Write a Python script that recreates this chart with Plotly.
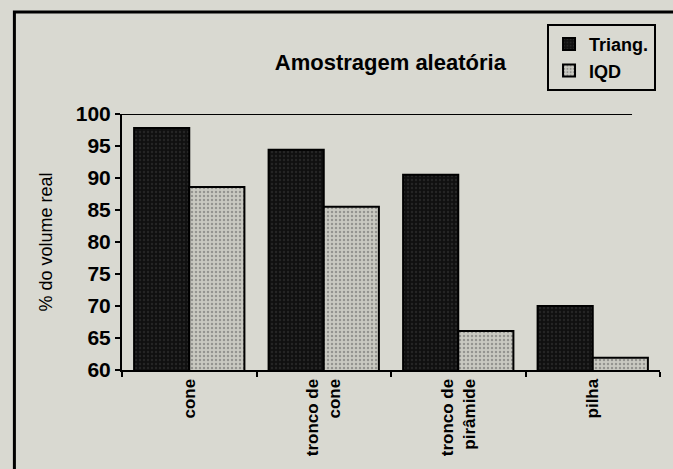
import plotly.graph_objects as go

categories = ["cone", "tronco de<br>cone", "tronco de<br>pirâmide", "pilha"]
triang = [97.8, 94.4, 90.5, 70.0]
iqd = [88.6, 85.5, 66.1, 61.9]
y_ticks = [60, 65, 70, 75, 80, 85, 90, 95, 100]

BG = "#d9d9d1"
FONT = "Liberation Sans, Arial, sans-serif"

fig = go.Figure()
fig.add_trace(go.Bar(
    name="<b>Triang.</b>", x=categories, y=triang,
    marker=dict(color="#141414",
                line=dict(color="black", width=2),
                pattern=dict(shape=".", bgcolor="#101010", fgcolor="#3a3a3a", size=4, solidity=0.3)),
))
fig.add_trace(go.Bar(
    name="<b>IQD</b>", x=categories, y=iqd,
    marker=dict(color="#c0c0b8",
                line=dict(color="black", width=2),
                pattern=dict(shape=".", bgcolor="#c9c9c1", fgcolor="#5e5e5e", size=4, solidity=0.3)),
))

fig.update_layout(
    width=673, height=469,
    margin=dict(l=122, r=13, t=114, b=99),
    paper_bgcolor=BG, plot_bgcolor=BG,
    barmode="group", bargap=0.18, bargroupgap=0,
    font=dict(family=FONT, color="black"),
    title=dict(text="<b>Amostragem aleatória</b>", x=0.58, xanchor="center",
               y=1 - 62 / 469, yanchor="middle", font=dict(size=22, family=FONT)),
    legend=dict(x=0.79, y=1.352, xanchor="left", yanchor="top",
                bgcolor=BG, bordercolor="black", borderwidth=2,
                font=dict(size=18, family=FONT), tracegroupgap=0,
                itemwidth=30, itemsizing="constant"),
    showlegend=True,
)
fig.update_yaxes(
    range=[60, 100], tickvals=y_ticks, showgrid=False, zeroline=False,
    showline=True, linecolor="black", linewidth=2,
    ticks="outside", ticklen=5, tickwidth=2, tickcolor="black",
    tickfont=dict(size=21, family=FONT, weight="bold"),
    title=dict(text="% do volume real", font=dict(size=18, family=FONT), standoff=18),
)
fig.update_xaxes(
    showgrid=False, showline=True, linecolor="black", linewidth=2,
    ticks="outside", tickson="boundaries", ticklen=5, tickwidth=2, tickcolor="black",
    tickangle=-90, tickfont=dict(size=17, family=FONT, weight="bold"),
)
# top reference line at 100
fig.add_shape(type="line", xref="x domain", yref="y", x0=0, x1=0.948, y0=100, y1=100,
              line=dict(color="black", width=2))
# outer frame of the scanned figure
fig.add_shape(type="rect", xref="paper", yref="paper", x0=-0.2, x1=1.2, y0=-0.6, y1=1.398,
              line=dict(color="black", width=3))

fig.write_html("out.html", config={"displayModeBar": False},
               post_script="document.body.style.margin='0';document.body.style.overflow='hidden';")
